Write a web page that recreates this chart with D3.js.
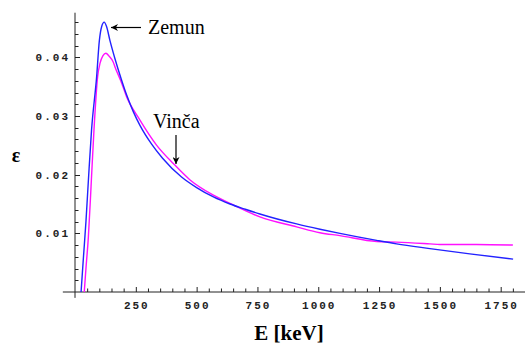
<!DOCTYPE html>
<head>
    <title>Zemun / Vinca</title>
    <script src="https://d3js.org/d3.v7.min.js"></script>
    <style>
        body { margin: 0; background: #fff; }
        .tick-label { font-family: "Liberation Mono", monospace; font-weight: bold; font-size: 11px; letter-spacing: 2px; fill: #222; }
        .note { font-family: "Liberation Serif", "Times New Roman", serif; font-size: 20px; fill: #000; }
        .axis-title { font-family: "Liberation Serif", "Times New Roman", serif; font-weight: bold; fill: #000; }
    </style>
</head>
<body>
<svg></svg>

<script>
    // values (E in keV, efficiency)
    var zemunE = [25, 34, 45, 55, 68, 89, 100, 110, 120, 130, 144, 164, 190, 212, 240, 267, 315, 360, 438, 500, 569, 637, 700, 760, 911, 1007, 1089, 1240, 1322, 1459, 1623, 1801];
    var zemunEff = [0, 0.0055, 0.012, 0.019, 0.0276, 0.0367, 0.0428, 0.0453, 0.0460, 0.0452, 0.0428, 0.0398, 0.0363, 0.0336, 0.0307, 0.0284, 0.0252, 0.0228, 0.0196, 0.0178, 0.0162, 0.0150, 0.0141, 0.0133, 0.0116, 0.0107, 0.0100, 0.0088, 0.0082, 0.0074, 0.0065, 0.0056];

    var vincaE = [38, 45, 55, 66, 78, 93, 103, 115, 127, 140, 157, 164, 190, 212, 267, 336, 404, 473, 569, 637, 760, 911, 1007, 1089, 1240, 1322, 1459, 1500, 1650, 1800];
    var vincaEff = [0, 0.004, 0.0094, 0.018, 0.0276, 0.0367, 0.0390, 0.0403, 0.0407, 0.0402, 0.0392, 0.0384, 0.0358, 0.0333, 0.0293, 0.0250, 0.0219, 0.0191, 0.0165, 0.0151, 0.0128, 0.0111, 0.0101, 0.0096, 0.0086, 0.0085, 0.0082, 0.0081, 0.0081, 0.0080];

    var xTickLabels = [250, 500, 750, 1000, 1250, 1500, 1750];
    var yTickLabels = [0.01, 0.02, 0.03, 0.04];

    var width = 525;
    var height = 346;

    var svg = d3.select('svg')
        .attr('width', width)
        .attr('height', height);

    var x = d3.scaleLinear().domain([0, 1750]).range([75, 500.7]);
    var y = d3.scaleLinear().domain([0, 0.04]).range([292, 57.3]);

    var axisColor = '#222';

    // axes crossing at the origin, mathematica style
    svg.append('line')
        .attr('x1', x(-50)).attr('x2', x(1850))
        .attr('y1', y(0)).attr('y2', y(0))
        .style('stroke', axisColor).style('stroke-width', 1);
    svg.append('line')
        .attr('x1', x(0)).attr('x2', x(0))
        .attr('y1', y(-0.001)).attr('y2', y(0.0476))
        .style('stroke', axisColor).style('stroke-width', 1);

    // x ticks every 50, major every 250
    var xt = d3.range(50, 1801, 50);
    svg.selectAll('.xtick').data(xt).enter().append('line')
        .attr('x1', function (d) { return x(d) + 0.5; })
        .attr('x2', function (d) { return x(d) + 0.5; })
        .attr('y1', y(0))
        .attr('y2', function (d) { return y(0) - (d % 250 === 0 ? 5 : 3.5); })
        .style('stroke', axisColor).style('stroke-width', 1);

    // y ticks every 0.002, major every 0.01
    var yt = d3.range(1, 24).map(function (i) { return i * 0.002; });
    svg.selectAll('.ytick').data(yt).enter().append('line')
        .attr('y1', function (d) { return Math.round(y(d)) + 0.5; })
        .attr('y2', function (d) { return Math.round(y(d)) + 0.5; })
        .attr('x1', x(0))
        .attr('x2', function (d, i) { return x(0) + ((i + 1) % 5 === 0 ? 5 : 3.5); })
        .style('stroke', axisColor).style('stroke-width', 1);

    svg.selectAll('.xlab').data(xTickLabels).enter().append('text')
        .attr('class', 'tick-label')
        .attr('x', function (d) { return x(d) + 1; })
        .attr('y', 309)
        .attr('text-anchor', 'middle')
        .text(function (d) { return d; });

    svg.selectAll('.ylab').data(yTickLabels).enter().append('text')
        .attr('class', 'tick-label')
        .attr('x', 70)
        .attr('y', function (d) { return y(d) + 4; })
        .attr('text-anchor', 'end')
        .text(function (d) { return d.toFixed(2); });

    // curves
    var line = d3.line()
        .x(function (d) { return x(d[0]); })
        .y(function (d) { return y(d[1]); })
        .curve(d3.curveMonotoneX);

    svg.append('path')
        .datum(d3.zip(vincaE, vincaEff))
        .attr('d', line)
        .style('fill', 'none')
        .style('stroke', '#ff10ff')
        .style('stroke-width', 1.4);

    svg.append('path')
        .datum(d3.zip(zemunE, zemunEff))
        .attr('d', line)
        .style('fill', 'none')
        .style('stroke', '#2222ff')
        .style('stroke-width', 1.4);

    // arrows
    svg.append('defs').append('marker')
        .attr('id', 'head')
        .attr('viewBox', '0 0 10 10')
        .attr('refX', 10).attr('refY', 5)
        .attr('markerWidth', 7).attr('markerHeight', 7)
        .attr('markerUnits', 'userSpaceOnUse')
        .attr('orient', 'auto')
        .append('path')
        .attr('d', 'M0,0 L10,5 L0,10 L3,5 Z')
        .style('fill', '#000');

    svg.append('line')
        .attr('x1', 141).attr('y1', 27.5)
        .attr('x2', 111).attr('y2', 27.5)
        .style('stroke', '#000').style('stroke-width', 1.2)
        .attr('marker-end', 'url(#head)');

    svg.append('line')
        .attr('x1', 176).attr('y1', 135)
        .attr('x2', 176).attr('y2', 164)
        .style('stroke', '#000').style('stroke-width', 1.2)
        .attr('marker-end', 'url(#head)');

    svg.append('text').attr('class', 'note')
        .attr('x', 148).attr('y', 34)
        .text('Zemun');

    svg.append('text').attr('class', 'note')
        .attr('x', 153).attr('y', 128)
        .text('Vinča');

    // axis titles
    svg.append('text').attr('class', 'axis-title')
        .attr('x', 289).attr('y', 340)
        .attr('text-anchor', 'middle')
        .style('font-size', '21px')
        .text('E [keV]');

    svg.append('text').attr('class', 'axis-title')
        .attr('x', 16).attr('y', 162)
        .attr('text-anchor', 'middle')
        .style('font-size', '20px')
        .text('ε');
</script>
</body>
